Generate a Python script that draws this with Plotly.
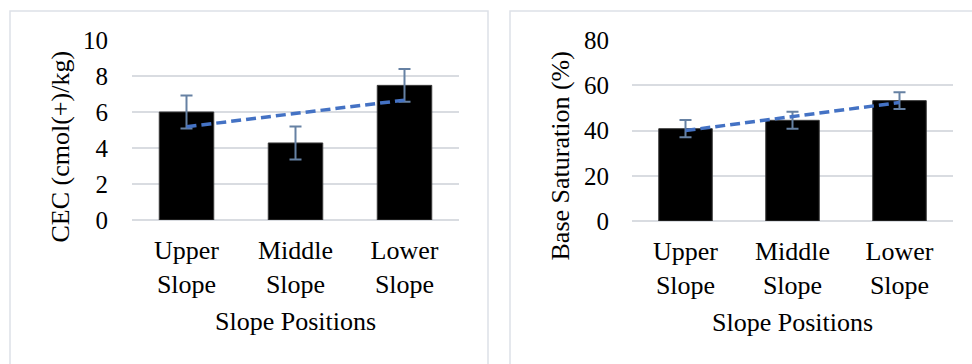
import numpy as np
import plotly.graph_objects as go

categories = ["Upper<br>Slope", "Middle<br>Slope", "Lower<br>Slope"]
cec_values = [6.0, 4.28, 7.48]
cec_errors = [0.92, 0.92, 0.91]
bs_values = [40.8, 44.5, 53.2]
bs_errors = [3.8, 3.75, 3.75]
cec_ticks = [0, 2, 4, 6, 8, 10]
bs_ticks = [0, 20, 40, 60, 80]
cec_title = "CEC (cmol(+)/kg)"
bs_title = "Base Saturation (%)"
x_title = "Slope Positions"

W, H = 972, 364
FONT = "Liberation Serif, Times New Roman, serif"
GRID = "#d9dce1"
ERR = "#6681a3"
TREND = "#4472c4"


def trend(vals):
    x = np.arange(len(vals))
    k, b = np.polyfit(x, vals, 1)
    return list(k * x + b)


fig = go.Figure()

for vals, errs, xa, ya in [(cec_values, cec_errors, "x", "y"), (bs_values, bs_errors, "x2", "y2")]:
    fig.add_trace(go.Bar(
        x=categories, y=vals, xaxis=xa, yaxis=ya,
        marker=dict(color="#000000", line=dict(color="#3a3a3a", width=1)),
        error_y=dict(type="data", array=errs, visible=True, color=ERR, thickness=2, width=6),
        showlegend=False, hoverinfo="skip",
    ))
    fig.add_trace(go.Scatter(
        x=categories, y=trend(vals), xaxis=xa, yaxis=ya, mode="lines",
        line=dict(color=TREND, width=3.5, dash="10px,5px"),
        showlegend=False, hoverinfo="skip",
    ))

tickfont = dict(family=FONT, size=26, color="#000000")
titlefont = dict(family=FONT, size=26, color="#000000")

xcommon = dict(type="category", range=[-0.5, 2.5], showgrid=False, zeroline=False,
               showline=False, ticks="", tickfont=tickfont, fixedrange=True, automargin=False,
               ticklabelstandoff=12, title=dict(text=x_title, font=titlefont, standoff=14))
ycommon = dict(showgrid=True, gridcolor=GRID, gridwidth=1.5,
               zeroline=True, zerolinecolor=GRID, zerolinewidth=1.5, showline=False,
               tickfont=dict(family=FONT, size=25, color="#000000"),
               automargin=False, fixedrange=True)
fig.update_layout(
    width=W, height=H, margin=dict(l=0, r=0, t=0, b=0, autoexpand=False),
    paper_bgcolor="white", plot_bgcolor="white", bargap=0.5,
    xaxis=dict(domain=[132 / W, 459 / W], anchor="y", **xcommon),
    xaxis2=dict(domain=[632 / W, 953 / W], anchor="y2", **xcommon),
    yaxis=dict(domain=[1 - 220 / H, 1 - 40 / H], anchor="x", range=[0, 10],
               tickvals=cec_ticks, ticklabelstandoff=23, **ycommon),
    yaxis2=dict(domain=[1 - 221 / H, 1 - 40 / H], anchor="x2", range=[0, 80],
                tickvals=bs_ticks, ticklabelstandoff=22, **ycommon),
    annotations=[
        dict(text=cec_title, textangle=-90, xref="paper", yref="paper",
             x=60 / W, y=1 - 146.5 / H, xanchor="center", yanchor="middle",
             showarrow=False, font=titlefont),
        dict(text=bs_title, textangle=-90, xref="paper", yref="paper",
             x=560 / W, y=1 - 156.5 / H, xanchor="center", yanchor="middle",
             showarrow=False, font=titlefont),
    ],
    shapes=[
        dict(type="rect", xref="paper", yref="paper", x0=10 / W, x1=488 / W,
             y0=-0.1, y1=1 - 11 / H, line=dict(color="#dde1e8", width=1.5), layer="below"),
        dict(type="rect", xref="paper", yref="paper", x0=510 / W, x1=1.1,
             y0=-0.1, y1=1 - 11 / H, line=dict(color="#dde1e8", width=1.5), layer="below"),
    ],
)

fig.write_html("out.html", config={"displayModeBar": False},
               post_script="document.body.style.margin='0';document.body.style.overflow='hidden';")
